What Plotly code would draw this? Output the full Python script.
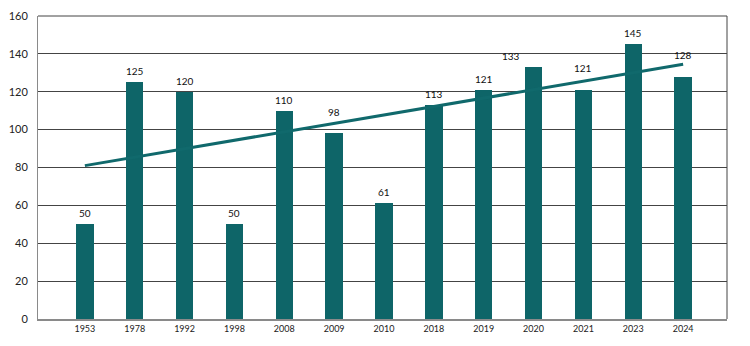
import plotly.graph_objects as go

years = ["1953", "1978", "1992", "1998", "2008", "2009", "2010", "2018", "2019", "2020", "2021", "2023", "2024"]
values = [50, 125, 120, 50, 110, 98, 61, 113, 121, 133, 121, 145, 128]
trend_ends = [81, 134.5]  # trendline values read at the first and last category
y_ticks = [0, 20, 40, 60, 80, 100, 120, 140, 160]

# label placement tweaks (pixels) to keep labels clear of the trend line, as in the reference
label_lift = [0, 0, 0, 0, 0, 10, 0, 0, 0, 0, 11, 0, 11]
label_dx = [0, 0, 0, 0, 0, 0, 0, 0, 0, -23, 0, 0, 0]

xi = list(range(len(years)))
bar_color = "#0e6568"
font_family = "Lato, 'Open Sans', sans-serif"

fig = go.Figure()
fig.add_trace(go.Bar(x=xi, y=values, width=0.35, marker=dict(color=bar_color, line=dict(width=0)),
                     showlegend=False, hoverinfo="skip"))
fig.add_trace(go.Scatter(x=[xi[0], xi[-1]], y=trend_ends, mode="lines",
                         line=dict(color="#10696c", width=3), showlegend=False, hoverinfo="skip"))

for i, v in zip(xi, values):
    fig.add_annotation(x=i, y=v, text=str(v), showarrow=False, yanchor="bottom",
                       yshift=3 + label_lift[i], xshift=label_dx[i],
                       font=dict(size=10, color="#111111", family=font_family))

fig.update_layout(
    width=750, height=346,
    margin=dict(l=35, r=23, t=9, b=27),
    paper_bgcolor="white", plot_bgcolor="white",
    bargap=0,
    xaxis=dict(range=[-0.94, 12.88], tickmode="array", tickvals=xi, ticktext=years,
               showgrid=False, zeroline=False, showline=True, linecolor="#8a8a8a", linewidth=2,
               ticks="", tickfont=dict(size=9, color="#222222", family=font_family)),
    yaxis=dict(range=[0, 160], tickmode="array", tickvals=y_ticks, showgrid=True,
               gridcolor="#444444", gridwidth=1, zeroline=False, showline=True,
               linecolor="#8a8a8a", linewidth=1, ticks="", ticklabelstandoff=7,
               tickfont=dict(size=11, color="#222222", family=font_family)),
    shapes=[
        dict(type="line", xref="paper", yref="paper", x0=0, x1=1, y0=1, y1=1,
             line=dict(color="#444444", width=1)),
        dict(type="line", xref="paper", yref="paper", x0=1, x1=1, y0=0, y1=1,
             line=dict(color="#444444", width=1)),
    ],
)

fig.write_html("out.html")
